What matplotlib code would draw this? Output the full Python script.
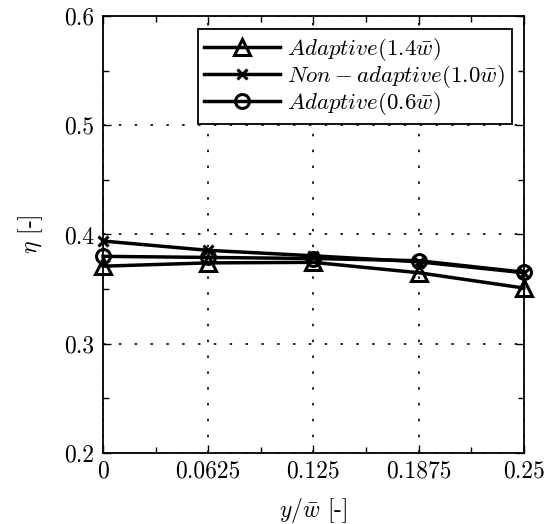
import matplotlib
matplotlib.use('Agg')
import matplotlib.pyplot as plt
from matplotlib.ticker import MultipleLocator

plt.rcParams['font.family'] = 'serif'
plt.rcParams['font.serif'] = ['cmr10']
plt.rcParams['mathtext.fontset'] = 'cm'
plt.rcParams['axes.formatter.use_mathtext'] = True

y_pos = [0, 0.0625, 0.125, 0.1875, 0.25]
x_labels = ['0', '0.0625', '0.125', '0.1875', '0.25']
eta_adaptive_14 = [0.371, 0.374, 0.3745, 0.365, 0.351]
eta_nonadaptive = [0.394, 0.3855, 0.3805, 0.375, 0.365]
eta_adaptive_06 = [0.380, 0.379, 0.378, 0.376, 0.3655]

fig = plt.figure(figsize=(5.52, 5.24), dpi=100)
ax = fig.add_axes([0.1866, 0.1355, 0.7624, 0.834])

ax.plot(y_pos, eta_adaptive_14, color='black', lw=2.5, marker='^', ms=11,
        mfc='none', mew=2.2, label=r'$Adaptive(1.4\bar{w})$', clip_on=False, zorder=3)
ax.plot(y_pos, eta_nonadaptive, color='black', lw=2.5, marker='x', ms=7,
        mew=2.2, label=r'$Non-adaptive(1.0\bar{w})$', clip_on=False, zorder=3)
ax.plot(y_pos, eta_adaptive_06, color='black', lw=2.5, marker='o', ms=10,
        mfc='none', mew=2.2, label=r'$Adaptive(0.6\bar{w})$', clip_on=False, zorder=3)

ax.set_xlim(0, 0.25)
ax.set_ylim(0.2, 0.6)
ax.set_xticks(y_pos)
ax.set_xticklabels(x_labels)
ax.set_yticks([0.2, 0.3, 0.4, 0.5, 0.6])
ax.set_yticklabels(['0.2', '0.3', '0.4', '0.5', '0.6'])
ax.xaxis.set_minor_locator(MultipleLocator(0.03125))
ax.yaxis.set_minor_locator(MultipleLocator(0.05))
ax.tick_params(which='both', direction='in', top=True, right=True, labelsize=17)
ax.tick_params(which='major', length=6, width=1)
ax.tick_params(which='minor', length=4, width=1)
ax.tick_params(axis='x', pad=5)
ax.tick_params(axis='y', pad=6)
ax.grid(True, which='major', color='black', linestyle=(0, (1.5, 8)), lw=1.2)
for sp in ax.spines.values():
    sp.set_linewidth(1.3)

ax.set_xlabel(r'$y/\bar{w}$ [-]', fontsize=17, labelpad=10)
ax.set_ylabel(r'$\eta$ [-]', fontsize=17, labelpad=14)

leg = ax.legend(loc='upper right', fontsize=16.5, frameon=True, fancybox=False,
                edgecolor='black', framealpha=1, borderpad=0.3, labelspacing=0.0,
                handlelength=3.3, handletextpad=0.3, borderaxespad=0,
                bbox_to_anchor=(0.971, 0.970))
leg.get_frame().set_linewidth(1.3)

fig.savefig('out.png', dpi=100)
